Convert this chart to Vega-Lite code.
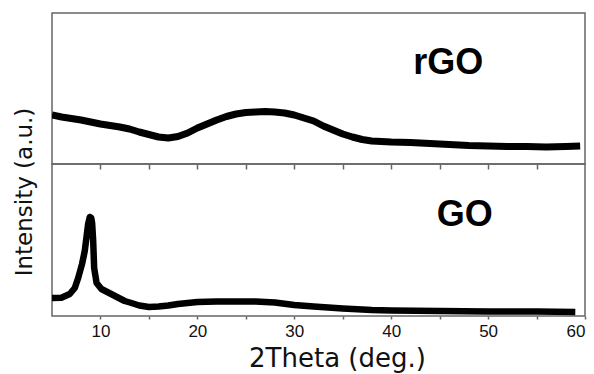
{
  "$schema": "https://vega.github.io/schema/vega-lite/v6.json",
  "padding": {"left": 14, "top": 12, "right": 10, "bottom": 2},
  "bounds": "flush",
  "spacing": 0,
  "config": {
    "view": {"stroke": "#666", "strokeWidth": 1.5},
    "font": "Liberation Sans",
    "axis": {"grid": false, "domain": false, "tickColor": "#666", "tickWidth": 1.5}
  },
  "title": {"text": "Intensity (a.u.)", "orient": "left", "anchor": "middle", "font": "DejaVu Sans", "fontSize": 23, "fontWeight": "normal", "color": "#111", "offset": 14},
  "datasets": {
    "rGO": [
      {"theta": 5, "intensity": 49}, {"theta": 6, "intensity": 47}, {"theta": 7, "intensity": 45.5},
      {"theta": 8, "intensity": 44}, {"theta": 9, "intensity": 42}, {"theta": 10, "intensity": 40},
      {"theta": 11, "intensity": 38.5}, {"theta": 12, "intensity": 37}, {"theta": 13, "intensity": 35},
      {"theta": 14, "intensity": 32}, {"theta": 15, "intensity": 29.5}, {"theta": 16, "intensity": 27},
      {"theta": 17, "intensity": 26}, {"theta": 18, "intensity": 27.5}, {"theta": 19, "intensity": 31},
      {"theta": 20, "intensity": 36}, {"theta": 21, "intensity": 40}, {"theta": 22, "intensity": 44},
      {"theta": 23, "intensity": 47.5}, {"theta": 24, "intensity": 50}, {"theta": 25, "intensity": 51.5},
      {"theta": 26, "intensity": 52}, {"theta": 27, "intensity": 52.5}, {"theta": 28, "intensity": 52},
      {"theta": 29, "intensity": 51}, {"theta": 30, "intensity": 49}, {"theta": 31, "intensity": 46},
      {"theta": 32, "intensity": 43}, {"theta": 33, "intensity": 38}, {"theta": 34, "intensity": 34},
      {"theta": 35, "intensity": 30}, {"theta": 36, "intensity": 27}, {"theta": 37, "intensity": 24.5},
      {"theta": 38, "intensity": 23}, {"theta": 39, "intensity": 22.5}, {"theta": 40, "intensity": 22},
      {"theta": 42, "intensity": 21.5}, {"theta": 44, "intensity": 20.5}, {"theta": 46, "intensity": 19.5},
      {"theta": 48, "intensity": 18.5}, {"theta": 50, "intensity": 18}, {"theta": 52, "intensity": 17.5},
      {"theta": 54, "intensity": 17.5}, {"theta": 56, "intensity": 17}, {"theta": 58, "intensity": 17.5},
      {"theta": 59.5, "intensity": 18}
    ],
    "GO": [
      {"theta": 5, "intensity": 18}, {"theta": 5.97, "intensity": 18.3}, {"theta": 6.83, "intensity": 22},
      {"theta": 7.35, "intensity": 28}, {"theta": 7.7, "intensity": 38}, {"theta": 8.1, "intensity": 52},
      {"theta": 8.38, "intensity": 65}, {"theta": 8.55, "intensity": 78}, {"theta": 8.73, "intensity": 92},
      {"theta": 8.9, "intensity": 99}, {"theta": 9.05, "intensity": 98}, {"theta": 9.14, "intensity": 93},
      {"theta": 9.25, "intensity": 75}, {"theta": 9.35, "intensity": 48}, {"theta": 9.6, "intensity": 33},
      {"theta": 10.1, "intensity": 27}, {"theta": 11.1, "intensity": 22}, {"theta": 12.5, "intensity": 15},
      {"theta": 13.2, "intensity": 13}, {"theta": 14, "intensity": 10.5},
      {"theta": 15, "intensity": 9}, {"theta": 16, "intensity": 9.5}, {"theta": 17, "intensity": 10.5},
      {"theta": 18, "intensity": 12}, {"theta": 20, "intensity": 14}, {"theta": 22, "intensity": 14.5},
      {"theta": 24, "intensity": 14.5}, {"theta": 26, "intensity": 14.5}, {"theta": 28, "intensity": 13.5},
      {"theta": 30, "intensity": 11}, {"theta": 32, "intensity": 9.5}, {"theta": 35, "intensity": 7.5},
      {"theta": 38, "intensity": 6}, {"theta": 40, "intensity": 5.5}, {"theta": 45, "intensity": 5},
      {"theta": 50, "intensity": 4.5}, {"theta": 55, "intensity": 4.5}, {"theta": 59, "intensity": 4}
    ],
    "labelTop": [{"theta": 45.9, "intensity": 90, "name": "rGO"}],
    "labelBottom": [{"theta": 47.6, "intensity": 90, "name": "GO"}]
  },
  "vconcat": [
    {
      "width": 533,
      "height": 151,
      "layer": [
        {
          "data": {"name": "rGO"},
          "mark": {"type": "line", "color": "#000", "strokeWidth": 7, "strokeJoin": "round", "clip": true},
          "encoding": {
            "x": {"field": "theta", "type": "quantitative", "scale": {"domain": [5, 60], "nice": false},
                  "axis": {"orient": "bottom", "values": [10, 15, 20, 25, 30, 35, 40, 45, 50, 55], "labels": false, "tickSize": 5, "title": null}},
            "y": {"field": "intensity", "type": "quantitative", "scale": {"domain": [0, 151], "nice": false, "zero": false}, "axis": null}
          }
        },
        {
          "data": {"name": "labelTop"},
          "mark": {"type": "text", "font": "Liberation Sans", "fontWeight": "bold", "fontSize": 36, "baseline": "alphabetic", "align": "center", "color": "#000"},
          "encoding": {
            "x": {"field": "theta", "type": "quantitative"},
            "y": {"field": "intensity", "type": "quantitative"},
            "text": {"field": "name"}
          }
        }
      ]
    },
    {
      "width": 533,
      "height": 152,
      "layer": [
        {
          "data": {"name": "GO"},
          "mark": {"type": "line", "color": "#000", "strokeWidth": 6.5, "strokeJoin": "round", "clip": true},
          "encoding": {
            "x": {"field": "theta", "type": "quantitative", "scale": {"domain": [5, 60], "nice": false},
                  "axis": {"orient": "bottom", "values": [10, 15, 20, 25, 30, 35, 40, 45, 50, 55, 60],
                           "labelExpr": "datum.value % 10 === 0 ? datum.label : ''",
                           "labelFontSize": 17, "labelColor": "#111", "labelPadding": 4, "tickSize": 3,
                           "title": "2Theta (deg.)", "titleFont": "DejaVu Sans", "titleFontSize": 26, "titleFontWeight": "normal", "titleColor": "#111", "titlePadding": 6, "titleX": 285}},
            "y": {"field": "intensity", "type": "quantitative", "scale": {"domain": [0, 152], "nice": false, "zero": false}, "axis": null}
          }
        },
        {
          "data": {"name": "labelBottom"},
          "mark": {"type": "text", "font": "Liberation Sans", "fontWeight": "bold", "fontSize": 36, "baseline": "alphabetic", "align": "center", "color": "#000"},
          "encoding": {
            "x": {"field": "theta", "type": "quantitative"},
            "y": {"field": "intensity", "type": "quantitative"},
            "text": {"field": "name"}
          }
        }
      ]
    }
  ]
}
